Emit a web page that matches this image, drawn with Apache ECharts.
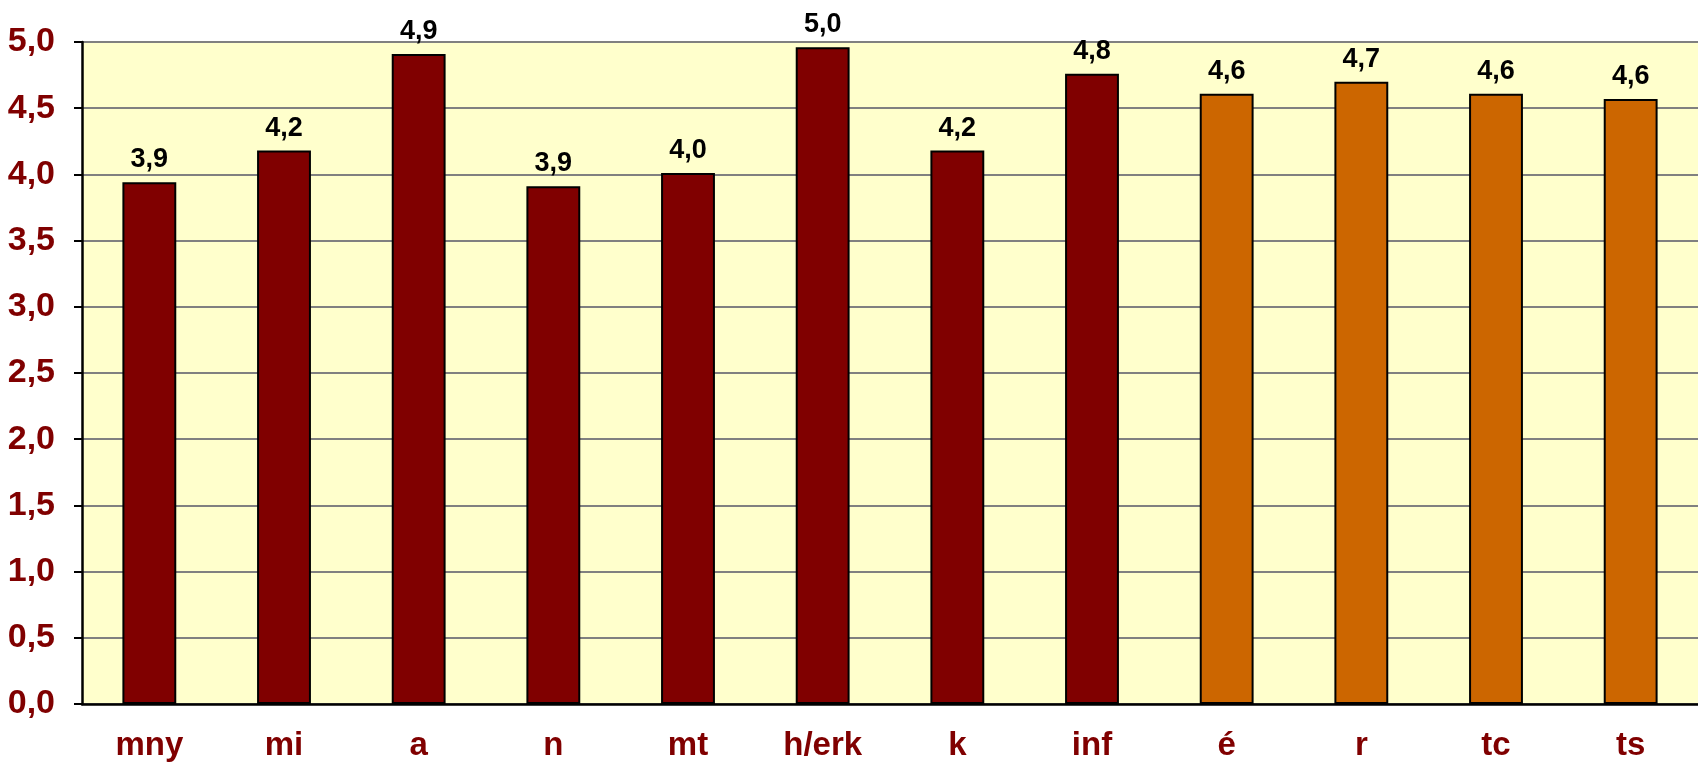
<!DOCTYPE html>
<html>
<head>
<meta charset="utf-8">
<script src="https://cdn.jsdelivr.net/npm/echarts@6/dist/echarts.min.js"></script>
<style>
  html, body { margin: 0; padding: 0; background: #fff; }
  #chart { width: 1698px; height: 763px; }
</style>
</head>
<body>
<div id="chart"></div>
<script>
var categories = ['mny', 'mi', 'a', 'n', 'mt', 'h/erk', 'k', 'inf', 'é', 'r', 'tc', 'ts']
var values = [3.94, 4.18, 4.91, 3.91, 4.01, 4.96, 4.18, 4.76, 4.61, 4.70, 4.61, 4.57]
// the last four categories are drawn in orange
var orangeFrom = 8

var fontFamily = '"Liberation Sans", Arial, sans-serif'
var comma = function (v) { return Number(v).toFixed(1).replace('.', ',') }

var myChart = echarts.init(document.getElementById('chart'))
myChart.setOption({
  animation: false,
  textStyle: { fontFamily: fontFamily },
  grid: {
    left: 82,
    top: 42,
    width: 1621,
    height: 662,
    show: true,
    backgroundColor: '#FFFFCC',
    borderWidth: 0
  },
  xAxis: {
    type: 'category',
    data: categories,
    axisLine: { lineStyle: { color: '#000', width: 2.5 } },
    axisTick: { length: 8, lineStyle: { color: '#000', width: 2 } },
    axisLabel: {
      color: '#800000',
      fontSize: 33,
      fontWeight: 'bold',
      margin: 25
    }
  },
  yAxis: {
    type: 'value',
    min: 0,
    max: 5,
    interval: 0.5,
    axisLine: { show: true, lineStyle: { color: '#000', width: 2.5 } },
    axisTick: { show: true, length: 8, lineStyle: { color: '#000', width: 2 } },
    axisLabel: {
      color: '#800000',
      fontSize: 34,
      fontWeight: 'bold',
      margin: 27,
      formatter: comma
    },
    splitLine: { lineStyle: { color: '#808080', width: 2 } }
  },
  series: [{
    type: 'bar',
    data: values,
    barWidth: '40%',
    itemStyle: {
      borderColor: '#000',
      borderWidth: 2,
      color: function (p) { return p.dataIndex < orangeFrom ? '#800000' : '#CC6600' }
    },
    label: {
      show: true,
      position: 'top',
      distance: 9,
      color: '#000',
      fontSize: 27,
      fontWeight: 'bold',
      formatter: function (p) { return comma(p.value) }
    }
  }]
})
</script>
</body>
</html>
